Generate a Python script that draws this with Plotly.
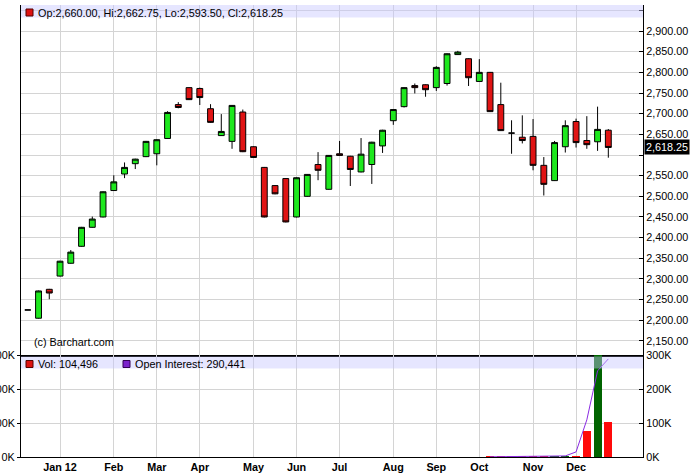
import plotly.graph_objects as go

# ---------------- data (weekly) ----------------
dates = [
    "2011-12-12", "2011-12-19", "2011-12-26",
    "2012-01-02", "2012-01-09", "2012-01-16", "2012-01-23", "2012-01-30",
    "2012-02-06", "2012-02-13", "2012-02-20", "2012-02-27",
    "2012-03-05", "2012-03-12", "2012-03-19", "2012-03-26",
    "2012-04-02", "2012-04-09", "2012-04-16", "2012-04-23", "2012-04-30",
    "2012-05-07", "2012-05-14", "2012-05-21", "2012-05-28",
    "2012-06-04", "2012-06-11", "2012-06-18", "2012-06-25",
    "2012-07-02", "2012-07-09", "2012-07-16", "2012-07-23", "2012-07-30",
    "2012-08-06", "2012-08-13", "2012-08-20", "2012-08-27",
    "2012-09-03", "2012-09-10", "2012-09-17", "2012-09-24",
    "2012-10-01", "2012-10-08", "2012-10-15", "2012-10-22", "2012-10-29",
    "2012-11-05", "2012-11-12", "2012-11-19", "2012-11-26",
    "2012-12-03", "2012-12-10", "2012-12-17", "2012-12-24",
]
opens = [2225, 2205, 2275, 2307, 2338, 2379, 2425, 2450, 2514, 2554, 2579, 2596,
         2603, 2640, 2722, 2763, 2761, 2712, 2647, 2633, 2704, 2620, 2570, 2526,
         2543, 2450, 2500, 2577, 2517, 2603, 2597, 2559, 2577, 2622, 2683, 2717,
         2768, 2770, 2763, 2773, 2843, 2833, 2778, 2800, 2722, 2653, 2643, 2645,
         2575, 2538, 2620, 2681, 2635, 2632, 2660.00]
highs = [2225, 2272, 2276, 2344, 2370, 2426, 2451, 2512, 2551, 2582, 2591, 2634,
         2638, 2706, 2728, 2764, 2763, 2723, 2699, 2721, 2710, 2621, 2571, 2527,
         2544, 2546, 2554, 2607, 2600, 2634, 2598, 2641, 2632, 2661, 2711, 2764,
         2773, 2771, 2815, 2846, 2852, 2834, 2832, 2801, 2775, 2684, 2696, 2687,
         2595, 2634, 2684, 2688, 2694, 2717, 2662.75]
lows = [2225, 2204, 2251, 2306, 2337, 2378, 2424, 2449, 2513, 2544, 2566, 2595,
        2575, 2639, 2713, 2733, 2721, 2678, 2646, 2615, 2607, 2593, 2449, 2505,
        2437, 2449, 2499, 2539, 2516, 2598, 2525, 2558, 2530, 2605, 2673, 2715,
        2749, 2741, 2755, 2768, 2842, 2767, 2777, 2704, 2658, 2603, 2628, 2563,
        2502, 2537, 2606, 2618, 2615, 2610, 2593.50]
closes = [2225, 2271, 2266, 2343, 2365, 2425, 2445, 2511, 2535, 2570, 2590, 2633,
          2637, 2703, 2715, 2734, 2739, 2679, 2657, 2720, 2608, 2594, 2450, 2506,
          2438, 2545, 2553, 2563, 2599, 2599, 2565, 2602, 2631, 2660, 2710, 2763,
          2763, 2758, 2812, 2845, 2849, 2787, 2800, 2705, 2659, 2653, 2635, 2575,
          2529, 2630, 2671, 2630, 2625, 2662, 2618.25]
volumes = [0] * 43 + [150, 200, 250, 300, 350, 450, 550, 700, 1000,
                      78000, 330000, 104496]
open_interest = [None] * 43 + [600, 900, 1200, 1500, 1900, 2300, 2700, 3200,
                               15000, 110000, 255000, 290441]

month_ticks = ["2012-01-02", "2012-02-06", "2012-03-05", "2012-04-02",
               "2012-05-07", "2012-06-04", "2012-07-02", "2012-08-06",
               "2012-09-03", "2012-10-01", "2012-11-05", "2012-12-03"]
month_labels = ["Jan 12", "Feb", "Mar", "Apr", "May", "Jun", "Jul", "Aug",
                "Sep", "Oct", "Nov", "Dec"]
price_ticks = [2150, 2200, 2250, 2300, 2350, 2400, 2450, 2500, 2550, 2600,
               2650, 2700, 2750, 2800, 2850, 2900, 2950]
price_tick_labels = ["2,150.00", "2,200.00", "2,250.00", "2,300.00", "2,350.00",
                     "2,400.00", "2,450.00", "2,500.00", "2,550.00", "",
                     "2,650.00", "2,700.00", "2,750.00", "2,800.00", "2,850.00",
                     "2,900.00", ""]
vol_ticks = [0, 100000, 200000, 300000]
vol_tick_labels = ["0K", "100K", "200K", "300K"]

# ---------------- styling / geometry ----------------
W, H = 691, 476
ML, MR, MT, MB = 21, 48, 5, 19
PW, PH = W - ML - MR, H - MT - MB
SPLIT = 355  # pixel row between price and volume panes


def pxx(px):
    return (px - ML) / PW


def pxy(py):
    return (H - MB - py) / PH


vol_top = pxy(SPLIT)
GREEN = "#1ee81e"
RED = "#e01414"
VGREEN = "#006400"
VRED = "#ff0a0a"
PURPLE = "#8a2be2"
GRID = "#d4d4d4"
FONT = "Liberation Sans, Arial, sans-serif"
FS = 10.8
X_RANGE = ["2011-12-07 14:00", "2013-01-15 14:00"]

vol_colors = [VGREEN if c > o else VRED for o, c in zip(opens, closes)]

fig = go.Figure()
fig.add_trace(go.Candlestick(
    x=dates, open=opens, high=highs, low=lows, close=closes,
    xaxis="x", yaxis="y", whiskerwidth=0,
    increasing=dict(fillcolor=GREEN, line=dict(color="black", width=1)),
    decreasing=dict(fillcolor=RED, line=dict(color="black", width=1)),
    showlegend=False,
))
fig.add_trace(go.Bar(
    x=dates, y=volumes, xaxis="x2", yaxis="y2",
    marker=dict(color=vol_colors, line=dict(width=0)),
    width=5.3 * 86400000, showlegend=False,
))
fig.add_trace(go.Scatter(
    x=dates, y=open_interest, xaxis="x2", yaxis="y3", mode="lines",
    line=dict(color=PURPLE, width=1), showlegend=False, connectgaps=False,
))

fig.update_layout(
    template="none",
    width=W, height=H,
    margin=dict(l=ML, r=MR, t=MT, b=MB, pad=0, autoexpand=False),
    paper_bgcolor="white", plot_bgcolor="white",
    font=dict(family=FONT, size=FS, color="black"),
    boxgap=0.22,
    bargap=0,
    xaxis=dict(domain=[0, 1], anchor="y", type="date", range=X_RANGE,
               tickvals=month_ticks, showticklabels=False, ticks="",
               showgrid=True, gridcolor=GRID, gridwidth=1,
               showline=True, linecolor="black", linewidth=2, automargin=False,
               rangeslider=dict(visible=False), fixedrange=True, zeroline=False),
    yaxis=dict(domain=[vol_top, 1], anchor="x", side="right",
               range=[2116, 2963], tickvals=price_ticks, ticktext=price_tick_labels,
               ticks="inside", ticklen=4, tickcolor="black", automargin=False,
               showgrid=True, gridcolor=GRID, zeroline=False,
               showline=True, mirror=True, linecolor="black", linewidth=1),
    xaxis2=dict(domain=[0, 1], anchor="y2", type="date", matches="x",
                range=X_RANGE, tickvals=month_ticks, ticktext=month_labels,
                tickfont=dict(family=FONT, size=FS, weight="bold"),
                ticks="", showgrid=True, gridcolor=GRID, automargin=False,
                showline=True, linecolor="black", linewidth=1, zeroline=False),
    yaxis2=dict(domain=[0, vol_top], anchor="x2", side="right",
                range=[0, 302000], tickvals=vol_ticks, ticktext=vol_tick_labels,
                ticks="inside", ticklen=4, tickcolor="black", automargin=False,
                showgrid=True, gridcolor=GRID, zeroline=False,
                showline=True, mirror=True, linecolor="black", linewidth=1),
    yaxis3=dict(overlaying="y2", anchor="x2", side="left",
                range=[0, 302000], tickvals=vol_ticks, ticktext=vol_tick_labels,
                ticks="outside", ticklen=3, tickcolor="black", automargin=False,
                showgrid=False, zeroline=False, showline=False),
)

BAND = "rgba(200,200,255,0.45)"
shapes = [
    dict(type="rect", xref="paper", yref="paper", x0=0, x1=1,
         y0=pxy(17.5), y1=pxy(5), fillcolor=BAND, line=dict(width=0), layer="above"),
    dict(type="rect", xref="paper", yref="paper", x0=0, x1=1,
         y0=pxy(368.5), y1=pxy(356.5), fillcolor=BAND, line=dict(width=0), layer="above"),
    dict(type="rect", xref="paper", yref="paper", x0=pxx(26), x1=pxx(33),
         y0=pxy(16), y1=pxy(9), fillcolor="#dd1111",
         line=dict(color="#550000", width=1), layer="above"),
    dict(type="rect", xref="paper", yref="paper", x0=pxx(26), x1=pxx(33),
         y0=pxy(367.5), y1=pxy(360.5), fillcolor="#dd1111",
         line=dict(color="#550000", width=1), layer="above"),
    dict(type="rect", xref="paper", yref="paper", x0=pxx(123), x1=pxx(130),
         y0=pxy(367.5), y1=pxy(360.5), fillcolor="#7a22cc",
         line=dict(color="#330055", width=1), layer="above"),
]
fig.update_layout(shapes=shapes)

ohlc_text = "Op:{:,.2f}, Hi:{:,.2f}, Lo:{:,.2f}, Cl:{:,.2f}".format(
    opens[-1], highs[-1], lows[-1], closes[-1])
annotations = [
    dict(text=ohlc_text, xref="paper", yref="paper", x=pxx(36), y=pxy(12.5),
         xanchor="left", yanchor="middle", showarrow=False,
         font=dict(family=FONT, size=FS, color="black")),
    dict(text="Vol: {:,}".format(volumes[-1]), xref="paper", yref="paper",
         x=pxx(36), y=pxy(363.5), xanchor="left", yanchor="middle", showarrow=False,
         font=dict(family=FONT, size=FS, color="black")),
    dict(text="Open Interest: {:,}".format(open_interest[-1]), xref="paper",
         yref="paper", x=pxx(133), y=pxy(363.5), xanchor="left", yanchor="middle",
         showarrow=False, font=dict(family=FONT, size=FS, color="black")),
    dict(text="(c) Barchart.com", xref="paper", yref="paper", x=pxx(32), y=pxy(342),
         xanchor="left", yanchor="middle", showarrow=False,
         font=dict(family=FONT, size=FS, color="black")),
    dict(text="{:,.2f}".format(closes[-1]), xref="paper", yref="y",
         x=pxx(644), y=closes[-1], xanchor="left", yanchor="middle",
         showarrow=False, bgcolor="black", borderpad=1,
         font=dict(family=FONT, size=FS, color="white")),
]
fig.update_layout(annotations=annotations)

fig.write_html(
    "out.html",
    config={"displayModeBar": False},
    post_script="document.body.style.margin='0';document.body.style.overflow='hidden';",
)
